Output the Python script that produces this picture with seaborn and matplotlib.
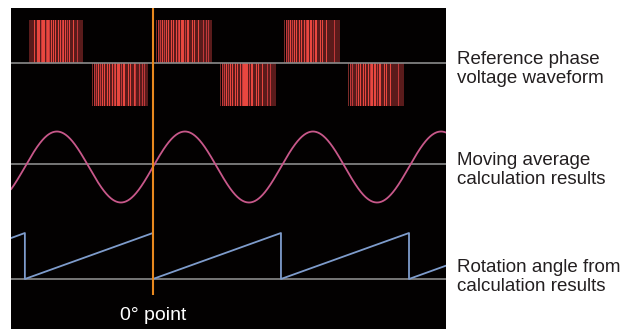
import matplotlib
matplotlib.use("Agg")
import matplotlib.pyplot as plt
import seaborn as sns
import numpy as np
import pandas as pd

# x axis in electrical degrees, 0 = the marked zero point
x_range = [-399, 824]

# PWM half cycles: start angle and polarity
half_start = [-362, -180, 0, 180, 360, 540]
half_sign = [1, -1, 1, -1, 1, -1]

# pulses inside one half cycle (degrees from half-cycle start)
pulse_deg = [3, 10, 16, 22, 28, 33, 39, 44, 48, 53, 58, 62, 67, 72, 76, 82,
             87, 92, 96, 101, 107, 111, 116, 121, 127, 132, 138, 143, 150, 157, 166, 174]
pulse_width = [1.2, 1.2, 1.5, 1.8, 2.5, 2, 3, 2.5, 2, 3, 3, 2, 3, 2, 3, 3.5,
               3, 2, 3, 3, 2, 3, 2.5, 2, 2.5, 2, 2, 1.8, 1.5, 1.5, 1.2, 1.2]
pulse_shade = [0, 0, 1, 1, 2, 1, 2, 2, 1, 2, 2, 1, 2, 1, 2, 2,
               2, 1, 2, 2, 1, 2, 2, 1, 2, 1, 2, 1, 1, 1, 0, 0]

# moving average result: sine
sine_amp = 1.0
sine_period = 360
sine_phase = 0

# rotation angle: sawtooth vertices (angle, fraction of full scale)
saw_x = [-399, -360, -360, 0, 0, 360, 360, 720, 720, 824]
saw_y = [0.89, 1.0, 0.0, 1.0, 0.0, 1.0, 0.0, 1.0, 0.0, 0.29]

labels = ["Reference phase\nvoltage waveform",
          "Moving average\ncalculation results",
          "Rotation angle from\ncalculation results"]

# layout (vertical positions in pixels from the bottom of the panel)
PWM_BASE, PWM_AMP = 266, 43
SINE_BASE, SINE_MID, SINE_AMP = 165, 162, 35.5
SAW_BASE, SAW_H = 50, 46

shade_colors = ["#7a2a28", "#c0383a", "#e8473f"]

sns.set_style("dark")
fig = plt.figure(figsize=(6.35, 3.29), dpi=100)
fig.patch.set_facecolor("white")
ax = fig.add_axes([11 / 635, 0, 435 / 635, 321 / 329])
ax.set_facecolor("#030101")

# PWM waveform
for start, sign in zip(half_start, half_sign):
    ax.bar([start + 90], [sign * PWM_AMP], width=150, bottom=PWM_BASE,
           color="#5a1b1b", linewidth=0, zorder=1)
    ax.bar([start + d for d in pulse_deg], [sign * PWM_AMP] * len(pulse_deg),
           width=pulse_width, bottom=PWM_BASE,
           color=[shade_colors[s] for s in pulse_shade], linewidth=0, zorder=2)

# sine
xs = np.linspace(x_range[0], x_range[1], 1200)
sine_df = pd.DataFrame({"x": xs,
                        "y": SINE_MID + SINE_AMP * sine_amp *
                        np.sin(np.radians(xs * 360 / sine_period + sine_phase))})
sns.lineplot(data=sine_df, x="x", y="y", ax=ax, color="#c8588a", lw=1.3,
             sort=False, estimator=None, zorder=4)

# sawtooth
saw_df = pd.DataFrame({"x": saw_x, "y": [SAW_BASE + SAW_H * v for v in saw_y]})
sns.lineplot(data=saw_df, x="x", y="y", ax=ax, color="#7e9ccc", lw=1.3,
             sort=False, estimator=None, zorder=4)

# baselines
for base in (PWM_BASE, SINE_BASE, SAW_BASE):
    ax.axhline(base, color="#8a8a8a", lw=1.2, zorder=3)

# zero point marker
ax.vlines(0, 34, 321, color="#e8881e", lw=1.5, zorder=5)
ax.text(0, 13, "0° point", color="white", ha="center", va="center",
        fontsize=14, family=["Liberation Sans", "DejaVu Sans"])

ax.set_xlim(x_range)
ax.set_ylim(0, 321)
ax.set_xticks([])
ax.set_yticks([])
ax.set_xlabel("")
ax.set_ylabel("")
for sp in ax.spines.values():
    sp.set_visible(False)

for lab, yy in zip(labels, [69, 170, 277]):
    fig.text(457 / 635, 1 - yy / 329, lab, ha="left", va="center",
             fontsize=13.5, color="#231f20", linespacing=1.2,
             family=["Liberation Sans", "DejaVu Sans"])

fig.savefig("out.png", dpi=100, facecolor="white")
